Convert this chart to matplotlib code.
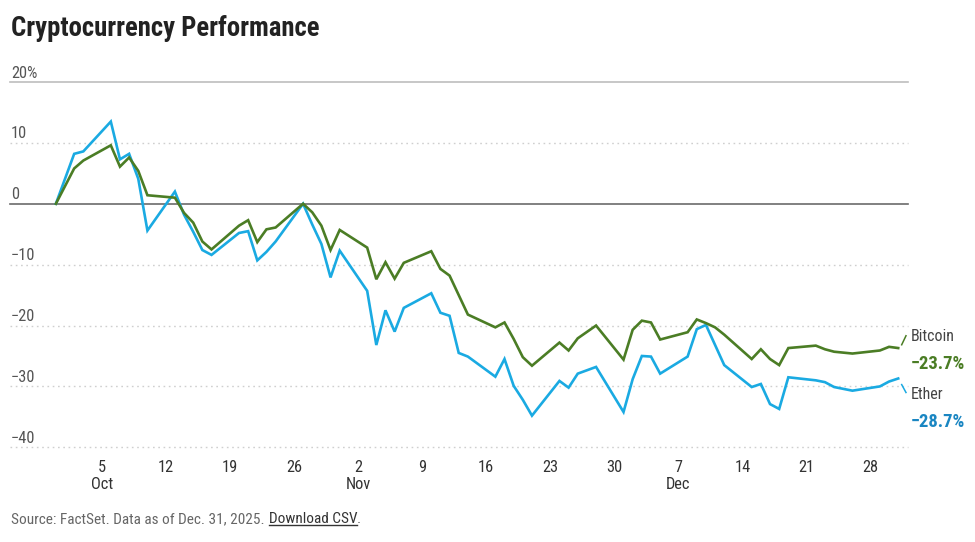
import matplotlib
matplotlib.use("Agg")
import matplotlib.pyplot as plt
import matplotlib.dates as mdates
import matplotlib.transforms as mtransforms
from matplotlib import font_manager
import datetime as dt

# ---------------- data ----------------
dates = [
    "2025-09-30", "2025-10-02", "2025-10-03", "2025-10-06", "2025-10-07", "2025-10-08",
    "2025-10-09", "2025-10-10", "2025-10-13", "2025-10-14", "2025-10-15", "2025-10-16",
    "2025-10-17", "2025-10-20", "2025-10-21", "2025-10-22", "2025-10-23", "2025-10-24",
    "2025-10-27", "2025-10-28", "2025-10-29", "2025-10-30", "2025-10-31", "2025-11-03",
    "2025-11-04", "2025-11-05", "2025-11-06", "2025-11-07", "2025-11-10", "2025-11-11",
    "2025-11-12", "2025-11-13", "2025-11-14", "2025-11-17", "2025-11-18", "2025-11-19",
    "2025-11-20", "2025-11-21", "2025-11-24", "2025-11-25", "2025-11-26", "2025-11-28",
    "2025-12-01", "2025-12-02", "2025-12-03", "2025-12-04", "2025-12-05", "2025-12-08",
    "2025-12-09", "2025-12-10", "2025-12-11", "2025-12-12", "2025-12-15", "2025-12-16",
    "2025-12-17", "2025-12-18", "2025-12-19", "2025-12-22", "2025-12-23", "2025-12-24",
    "2025-12-26", "2025-12-29", "2025-12-30", "2025-12-31",
]
bitcoin = [
    0.0, 5.8, 7.1, 9.6, 6.1, 7.6,
    5.4, 1.4, 1.0, -1.5, -3.1, -6.2,
    -7.5, -3.6, -2.7, -6.3, -4.2, -3.9,
    0.0, -1.4, -3.6, -7.6, -4.3, -7.2,
    -12.4, -9.6, -12.3, -9.7, -7.8, -10.7,
    -11.8, -15.0, -18.2, -20.3, -19.5, -22.2,
    -25.2, -26.6, -22.8, -24.1, -22.1, -20.0,
    -25.6, -20.7, -19.2, -19.5, -22.3, -21.1,
    -19.0, -19.6, -20.3, -21.5, -25.5, -23.9,
    -25.5, -26.5, -23.7, -23.3, -23.9, -24.3,
    -24.6, -24.1, -23.5, -23.7,
]
ether = [
    0.0, 8.2, 8.6, 13.5, 7.3, 8.2,
    4.1, -4.4, 2.0, -1.8, -4.6, -7.6,
    -8.4, -4.8, -4.5, -9.3, -7.9, -6.2,
    0.0, -3.4, -6.6, -12.1, -7.7, -14.3,
    -23.2, -17.5, -21.0, -17.1, -14.7, -17.9,
    -18.4, -24.5, -25.1, -28.4, -25.5, -29.9,
    -32.2, -34.8, -29.1, -30.2, -27.9, -26.8,
    -34.2, -28.8, -25.0, -25.1, -27.9, -25.1,
    -20.6, -19.9, -23.2, -26.5, -30.1, -29.6,
    -32.9, -33.7, -28.5, -29.0, -29.3, -30.1,
    -30.7, -30.0, -29.2, -28.7,
]
series_names = ["Bitcoin", "Ether"]
end_labels = ["\u221223.7%", "\u221228.7%"]
yticks = [20, 10, 0, -10, -20, -30, -40]
ytick_labels = ["20%", "10", "0", "\u221210", "\u221220", "\u221230", "\u221240"]
xtick_dates = ["2025-10-05", "2025-10-12", "2025-10-19", "2025-10-26", "2025-11-02",
               "2025-11-09", "2025-11-16", "2025-11-23", "2025-11-30", "2025-12-07",
               "2025-12-14", "2025-12-21", "2025-12-28"]
xtick_labels = ["5\nOct", "12", "19", "26", "2\nNov", "9", "16", "23", "30", "7\nDec",
                "14", "21", "28"]
title = "Cryptocurrency Performance"
source = "Source: FactSet. Data as of Dec. 31, 2025."
link = "Download CSV"

# ---------------- style ----------------
names = {f.name for f in font_manager.fontManager.ttflist}
if "Liberation Sans Narrow" in names:
    FONT = "Liberation Sans Narrow"
elif "Roboto Condensed" in names:
    FONT = "Roboto Condensed"
elif "DejaVu Sans Condensed" in names:
    FONT = "DejaVu Sans Condensed"
else:
    FONT = "Liberation Sans"
plt.rcParams["font.family"] = [FONT, "DejaVu Sans"]

GREEN = "#4b7d25"
BLUE = "#1aaae2"
BLUE_TXT = "#1a86c2"

W, H = 975, 542
fig = plt.figure(figsize=(W / 100, H / 100), dpi=100)
left_px, right_px, top_px, bot_px = 10, 908, 82, 447.3
ax = fig.add_axes([left_px / W, 1 - bot_px / H, (right_px - left_px) / W, (bot_px - top_px) / H])

x = mdates.date2num([dt.date.fromisoformat(d) for d in dates])
x0 = mdates.date2num(dt.date(2025, 9, 30))
ax.set_xlim(x0 - 5.01, x0 + 93.07)
ax.set_ylim(-40, 20)

for s in ax.spines.values():
    s.set_visible(False)

# gridlines
for v in yticks:
    if v == 20:
        ax.axhline(v, color="#bdbdbd", lw=1.2, zorder=1, clip_on=False)
    elif v == 0:
        ax.axhline(v, color="#6b6b6b", lw=1.2, zorder=1, clip_on=False)
    else:
        ax.axhline(v, color="#cfcfcf", lw=1.0, ls=(0, (1.2, 2.6)), zorder=1, clip_on=False)

ax.set_yticks([])
trans = ax.get_yaxis_transform()
off = mtransforms.offset_copy(trans, fig=fig, x=1, y=4.5, units="dots")
for v, lab in zip(yticks, ytick_labels):
    ax.text(0, v, lab, transform=off, ha="left", va="baseline", fontsize=11.8,
            color="#555555")

# lines
ax.plot(x, ether, color=BLUE, lw=1.9, zorder=3, solid_joinstyle="miter")
ax.plot(x, bitcoin, color=GREEN, lw=1.9, zorder=4, solid_joinstyle="miter")

# x ticks
xt = mdates.date2num([dt.date.fromisoformat(d) for d in xtick_dates])
ax.set_xticks(xt)
ax.set_xticklabels(xtick_labels, fontsize=11.8, color="#333333", linespacing=1.2)
ax.tick_params(axis="x", length=0, pad=9)

# end labels
ax.plot([x0 + 92.38, x0 + 92.85], [-23.16, -21.68], color=GREEN, lw=1.1, clip_on=False)
ax.plot([x0 + 92.38, x0 + 92.85], [-29.7, -31.0], color=BLUE, lw=1.1, clip_on=False)
lx = x0 + 93.37
ax.text(lx, -21.8, series_names[0], ha="left", va="center", fontsize=11.5, color="#444444", clip_on=False)
ax.text(lx, -26.3, end_labels[0], ha="left", va="center", fontsize=13.4, fontweight="bold", color=GREEN, clip_on=False)
ax.text(lx, -31.4, series_names[1], ha="left", va="center", fontsize=11.5, color="#444444", clip_on=False)
ax.text(lx, -35.8, end_labels[1], ha="left", va="center", fontsize=13.4, fontweight="bold", color=BLUE_TXT, clip_on=False)

# title
fig.text(11 / W, 1 - 36 / H, title, ha="left", va="baseline", fontsize=19.3,
         fontweight="bold", color="#222222")

# source line
FS_SRC = 11.0
t1 = fig.text(11 / W, 1 - 523.3 / H, source, ha="left", va="baseline", fontsize=FS_SRC, color="#666666")
fig.canvas.draw()
r = fig.canvas.get_renderer()
bb = t1.get_window_extent(r)
x_link = bb.x1 + 4
t2 = fig.text(x_link / W, 1 - 523.3 / H, link, ha="left", va="baseline", fontsize=FS_SRC, color="#333333")
bb2 = t2.get_window_extent(r)
fig.text(bb2.x1 / W, 1 - 523.3 / H, ".", ha="left", va="baseline", fontsize=FS_SRC, color="#666666")
uy = (H - 523.3 - 2) / H
fig.add_artist(matplotlib.lines.Line2D([bb2.x0 / W, bb2.x1 / W], [uy, uy], color="#333333", lw=1.0))

fig.savefig("out.png", dpi=100)
